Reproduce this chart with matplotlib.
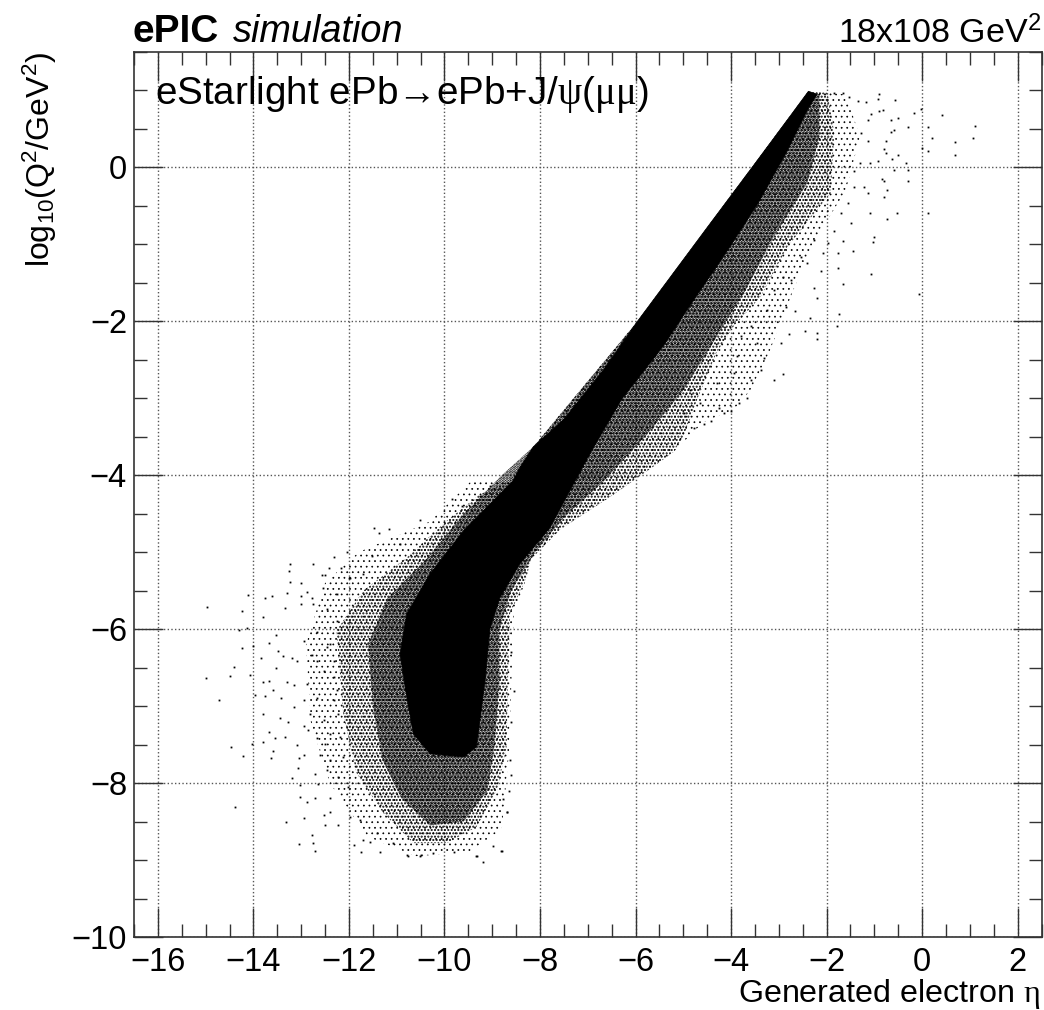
import matplotlib
matplotlib.use("Agg")
import matplotlib.pyplot as plt
from matplotlib.ticker import MultipleLocator

plt.rcParams['font.family'] = ['Liberation Sans', 'DejaVu Sans']
plt.rcParams['mathtext.fontset'] = 'custom'
plt.rcParams['mathtext.rm'] = 'Liberation Sans'
plt.rcParams['mathtext.it'] = 'Liberation Sans:italic'
plt.rcParams['mathtext.bf'] = 'Liberation Sans:bold'
plt.rcParams['mathtext.tt'] = 'Liberation Serif'

# solid black band, outline
core_eta = [-2.38, -2.7, -3.5, -4.5, -5.96, -6.67, -7.51, -8.14, -8.41, -8.56, -9.6, -10.3, -10.79, -10.93,
            -10.79, -10.65, -10.3, -9.6, -9.33, -9.15, -9.05, -8.84, -8.42, -7.79, -7.01, -6.3, -5.42, -4.78, -4.15, -3.45, -2.82, -2.4, -2.2]
core_q2 = [0.99, 0.72, 0.05, -0.78, -2.0, -2.63, -3.28, -3.63, -3.89, -4.07, -4.72, -5.28, -5.8, -6.32,
           -6.88, -7.36, -7.62, -7.66, -7.53, -6.67, -6.0, -5.59, -5.15, -4.68, -3.78, -3.02, -2.32, -1.72, -1.15, -0.48, 0.22, 0.75, 0.95]

# close speckle around the band
dense_eta = [-2.38, -2.15, -2.15, -2.4, -3.1, -3.7, -4.3, -5.0, -5.8, -6.7, -7.5, -8.1, -8.6, -8.85, -8.85, -8.95,
             -9.1, -9.6, -10.3, -10.9, -11.3, -11.5, -11.6, -11.2, -10.4, -9.6, -8.8, -8.14, -5.96]
dense_q2 = [0.99, 0.95, 0.4, -0.2, -0.9, -1.6, -2.2, -2.9, -3.5, -4.1, -4.55, -5.0, -5.5, -6.0, -6.7, -7.5,
            -8.1, -8.5, -8.55, -8.2, -7.7, -7.0, -6.2, -5.6, -5.1, -4.5, -4.0, -3.63, -2.0]

# thinner speckle out to the edge of the cloud
outer_eta = [-2.38, -1.98, -1.84, -1.91, -2.82, -3.38, -3.94, -4.3, -4.7, -5.0, -5.21, -5.63, -6.53, -7.57, -8.2,
             -8.28, -8.63, -8.67, -8.7, -8.9, -9.33, -9.95, -10.65, -11.28, -11.84, -12.12, -12.26, -11.7,
             -10.79, -9.95, -9.26, -8.63, -8.14, -5.96]
outer_q2 = [0.99, 0.97, 0.45, -0.33, -1.03, -1.68, -2.06, -2.4, -3.0, -3.5, -3.7, -3.89, -4.28, -4.7, -5.1,
            -5.33, -5.8, -6.67, -7.53, -8.09, -8.57, -8.78, -8.78, -8.39, -7.87, -7.1, -6.02, -5.5,
            -5.07, -4.59, -4.25, -4.07, -3.63, -2.0]

# faint fringe
fringe_eta = [-2.38, -1.6, -1.3, -1.6, -2.3, -2.7, -3.2, -3.6, -3.95, -4.58, -5.21, -5.63, -6.53, -7.57, -8.2,
              -8.28, -8.55, -8.6, -8.65, -8.8, -9.5, -10.6, -11.6, -12.4, -12.8, -12.9, -12.5, -11.8,
              -10.3, -9.4, -8.63, -8.14, -5.96]
fringe_q2 = [0.99, 0.95, 0.4, -0.3, -1.0, -1.6, -2.4, -2.9, -3.15, -3.31, -3.7, -3.89, -4.28, -4.7, -5.1,
             -5.33, -5.8, -6.7, -7.6, -8.6, -8.9, -8.95, -8.7, -8.0, -7.2, -6.2, -5.4, -5.0,
             -4.6, -4.05, -4.07, -3.63, -2.0]

# single events left of the cloud
left_eta = [-14.97, -15.0, -14.72, -14.47, -14.38, -14.21, -14.24, -14.12, -14.13, -14.3, -14.24, -14.4, -14.49, -14.07,
            -14.0, -13.96, -13.79, -13.76, -13.62, -13.29, -13.34, -13.23, -13.25, -13.23, -12.76, -13.0, -13.0, -13.0,
            -12.78, -12.76, -12.87, -12.31, -12.42, -12.17, -12.57, -12.5, -12.0, -12.55, -13.67, -13.53, -13.48, -13.37,
            -13.85, -13.2, -13.09, -13.52, -13.79, -13.67, -13.3, -13.16, -13.6, -13.43, -13.75, -13.79, -13.44, -13.16,
            -13.27, -12.95, -13.67, -13.79, -13.55, -13.34, -14.03, -13.6, -13.63, -13.09, -13.04, -12.95, -13.07, -13.2,
            -13.02, -12.71, -12.64, -13.02, -12.88, -12.72, -12.39, -13.32, -12.95, -12.53, -12.39, -12.78, -13.04, -12.76,
            -12.7, -12.22, -12.5, -12.95, -12.78, -12.67, -12.46, -12.53, -12.32, -12.88, -12.67, -12.32, -12.95, -12.81,
            -12.53, -12.39, -12.67, -12.5, -12.6, -12.39, -12.22, -12.46, -12.85]
left_q2 = [-5.71, -6.64, -6.92, -7.53, -8.31, -7.65, -5.76, -5.56, -5.99, -6.01, -6.25, -6.49, -6.61, -6.59,
           -6.22, -6.86, -5.84, -5.59, -5.57, -5.53, -5.72, -5.15, -5.25, -5.39, -5.15, -5.4, -5.57, -5.67,
           -5.59, -5.67, -5.52, -5.06, -5.2, -5.2, -5.3, -5.3, -5.33, -5.46, -6.18, -6.07, -6.28, -6.35,
           -6.38, -6.38, -6.41, -6.51, -6.68, -6.67, -6.69, -6.73, -6.79, -6.9, -6.87, -7.1, -7.15, -7.01,
           -7.2, -7.26, -7.33, -7.46, -7.42, -7.4, -7.49, -7.58, -7.68, -7.51, -7.67, -7.64, -7.81, -7.93,
           -8.03, -7.88, -8.01, -8.18, -8.25, -8.2, -8.19, -8.51, -8.45, -8.41, -8.38, -8.68, -8.79, -8.78,
           -8.88, -8.54, -8.54, -6.15, -6.34, -6.41, -6.23, -6.54, -6.62, -6.71, -6.9, -6.92, -6.92, -7.1,
           -7.18, -7.36, -7.42, -7.49, -7.64, -7.7, -7.92, -7.83, -7.31]

# single events right of the band
right_eta = [1.10, 1.07, 0.68, 0.68, 0.42, 0.12, 0.20, 0.12, -0.01, -0.03, -0.16, -0.3, -0.56, -0.91, -0.92, -0.81, -0.9,
             -1.08, -0.51, -0.65, -0.58, -0.65, -0.76, -0.79, -0.76, -0.51, -0.62, -0.34, -0.3, -0.3, -0.58, -0.83, -0.79,
             -0.73, -0.8, 0.12, -0.53, -0.73, -1.1, -1.0, -1.02, -1.06, -0.06, -1.65, -1.74, -1.79, -2.19, -2.21, -2.45,
             -2.34, -2.78, -2.66, -2.85, -2.96, -3.31, -2.92, -3.11, -3.66, -3.83, -4.0, -4.15, -4.43, -4.57, -4.78, -1.45,
             -1.65, -1.77, -1.77, -2.19, -2.26, -2.12, -1.17, -1.35, -1.52, -1.66, -1.84, -1.14, -1.28, -1.14, -0.93, -1.1,
             -1.31, -1.42, -1.21, -1.14, -1.42, -1.56, -1.7, -1.49, -1.84, -1.98, -2.26, -2.08, -2.4, -2.54, -2.75, -2.92,
             -3.1, -3.24, -3.59, -3.8, -3.45, -3.87, -3.38, -3.94, -3.59, -4.29, -4.25, -4.85, -4.64, -4.99]
right_q2 = [0.54, 0.38, 0.33, 0.16, 0.68, 0.52, 0.38, 0.21, 0.25, 0.76, 0.71, 0.52, 0.87, 0.96, 0.89, 0.74, 0.73,
            0.7, 0.64, 0.61, 0.48, 0.46, 0.34, 0.24, 0.19, 0.16, 0.11, 0.06, -0.03, -0.17, -0.03, -0.15, -0.18,
            -0.29, -0.39, -0.59, -0.59, -0.67, -0.59, -0.91, -0.97, -1.38, -1.65, -1.52, -1.9, -2.06, -2.23, -2.15, -2.12,
            -1.96, -2.17, -1.86, -1.81, -2.28, -2.48, -2.69, -2.76, -3.0, -3.06, -3.16, -3.19, -3.3, -3.33, -3.39, -1.09,
            -0.96, -1.11, -1.31, -1.7, -1.57, -1.35, 0.85, 0.86, 0.92, 0.97, 0.97, 0.61, 0.45, 0.34, 0.08, 0.06,
            0.06, -0.05, -0.25, -0.33, -0.25, -0.46, -0.59, -0.72, -0.83, -0.98, -0.94, -1.11, -1.24, -1.16, -1.46, -1.42,
            -1.59, -1.85, -2.06, -2.19, -2.28, -2.45, -2.63, -2.67, -2.76, -2.8, -3.13, -2.89, -3.06, -3.19]

# events along the rim of the low cloud
rim_eta = [-9.2, -9.31, -10.78, -10.5, -8.79, -8.98, -11.34, -11.74, -11.55, -11.89, -8.69, -8.77,
           -8.6, -8.55, -8.6, -8.62, -8.6, -8.65,
           -10.51, -11.47, -11.38, -11.17, -12.05, -11.52, -10.93, -9.85, -9.64, -9.26, -9.05, -11.7, -11.98,
           -12.26, -12.46, -12.26, -12.67, -12.39, -12.32, -12.26, -12.22, -12.19, -12.12, -12.01, -11.98, -11.77,
           -11.7, -11.42, -11.07, -10.76, -10.51, -10.23, -9.81, -9.33, -8.82, -8.7]
rim_q2 = [-9.02, -8.95, -8.93, -8.94, -8.88, -8.82, -8.89, -8.89, -8.76, -8.8, -8.37, -8.21,
          -6.3, -6.8, -7.2, -7.7, -7.9, -8.1,
          -4.58, -4.68, -4.75, -4.7, -5.0, -5.05, -4.89, -4.31, -4.4, -4.27, -4.14, -5.28, -5.33,
          -5.54, -5.74, -5.89, -6.04, -6.19, -6.41, -6.79, -7.1, -7.4, -7.66, -8.05, -8.44, -8.48,
          -8.74, -8.65, -8.78, -8.95, -8.95, -8.91, -8.9, -8.95, -8.88, -8.37]

W, H = 1044, 1010
fig = plt.figure(figsize=(W/100, H/100), dpi=100)
ax = fig.add_axes([134/W, 1-937/H, (1041.5-134)/W, (937-52)/H])
ax.set_xlim(-16.5, 2.5)
ax.set_ylim(-10, 1.5)

ax.grid(True, which='major', ls=':', lw=1.0, color='#555555')
ax.set_axisbelow(True)

plt.rcParams['hatch.linewidth'] = 0.5
ax.fill(fringe_eta, fringe_q2, facecolor='none', edgecolor='black', hatch='...', lw=0, zorder=2)
plt.rcParams['hatch.linewidth'] = 1.0
ax.fill(outer_eta, outer_q2, facecolor='none', edgecolor='black', hatch='.....', lw=0, zorder=2.5)
plt.rcParams['hatch.linewidth'] = 1.5
ax.fill(dense_eta, dense_q2, facecolor='none', edgecolor='black', hatch='......', lw=0, zorder=3)
ax.fill(core_eta, core_q2, facecolor='black', edgecolor='black', lw=0.5, zorder=4)

for xs, ys in [(left_eta, left_q2), (right_eta, right_q2), (rim_eta, rim_q2)]:
    ax.plot(xs, ys, ls='', marker='s', ms=1.3, mew=0, color='black', zorder=5)

ax.xaxis.set_major_locator(MultipleLocator(2))
ax.xaxis.set_minor_locator(MultipleLocator(0.5))
ax.yaxis.set_major_locator(MultipleLocator(2))
ax.yaxis.set_minor_locator(MultipleLocator(0.5))
ax.tick_params(which='major', direction='in', top=True, right=True, length=21, width=1.0,
               color='#333333', labelsize=23.5, pad=7)
ax.tick_params(which='minor', direction='in', top=True, right=True, length=9.5, width=1.0, color='#333333')
ax.tick_params(axis='y', which='major', pad=5)
for s in ax.spines.values():
    s.set_linewidth(1.2)
    s.set_color('#333333')

fig.text(738/W, 1-1002/H, r'Generated electron $\mathtt{\eta}$', fontsize=23.2, ha='left', va='baseline')
fig.text(40/W, 1-52/H, r'log$_{10}$(Q$^{2}$/GeV$^{2}$)', fontsize=23, rotation=90, ha='center', va='top')

fig.text(133/W, 1-42/H, 'ePIC', fontsize=28, fontweight='bold', ha='left', va='baseline')
fig.text(233/W, 1-42/H, 'simulation', fontsize=27.3, fontstyle='italic', ha='left', va='baseline')
fig.text(1041/W, 1-43/H, r'18x108 GeV$^{2}$', fontsize=24.5, ha='right', va='baseline')
ax.text(155/W, 1-104/H, 'eStarlight ePb→ePb+J/$\\mathtt{\\psi}$($\\mathtt{\\mu\\mu}$)', fontsize=27.8,
        ha='left', va='baseline', transform=fig.transFigure, zorder=6)

fig.savefig('out.png', dpi=100)
